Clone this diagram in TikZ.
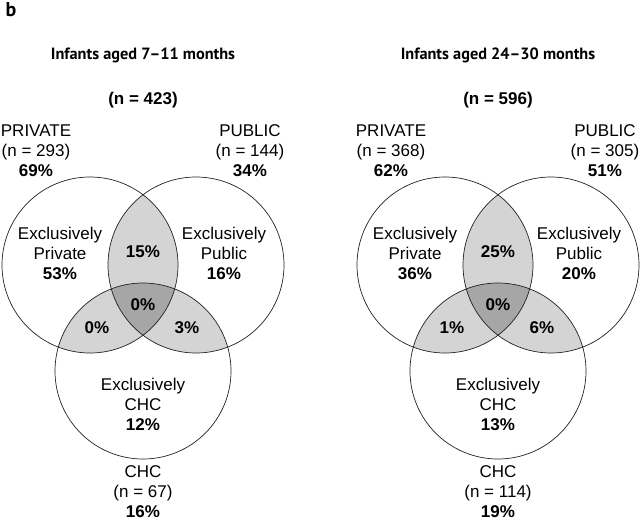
\documentclass[tikz,border=0pt]{standalone}
\usepackage{fontspec}
\setmainfont{Liberation Sans}
\newfontfamily\headfont[Ligatures=TeX]{PT Sans}
\usepackage{tikz}
\usetikzlibrary{positioning}
\definecolor{lightshade}{HTML}{D4D4D4}
\definecolor{darkshade}{HTML}{A6A6A6}
\definecolor{rim}{HTML}{222222}

\tikzset{
  venn/.style={circle, draw=rim, line width=0.7pt, minimum size=176pt, inner sep=0pt},
  lbl/.style={align=center, font=\fontsize{17}{20}\selectfont, inner sep=0pt},
  pct/.style={font=\fontsize{17}{20}\selectfont\bfseries, inner sep=0pt},
  head/.style={font=\headfont\fontsize{16.3}{19}\selectfont\bfseries, inner sep=0pt},
}

\begin{document}
\begin{tikzpicture}[x=1pt, y=-1pt]
  \useasboundingbox (0,0) rectangle (640,522);

  \node[font=\headfont\fontsize{20}{22}\selectfont\bfseries, inner sep=0pt] (tag) at (11,10) {b};

  % infants 7-11 months
  \coordinate (pA) at (90,265);
  \coordinate (uA) at (196,265);
  \coordinate (cA) at (143,371);
  \begin{scope}
    \clip (pA) circle (88pt);
    \fill[lightshade] (uA) circle (88pt);
    \fill[lightshade] (cA) circle (88pt);
  \end{scope}
  \begin{scope}
    \clip (uA) circle (88pt);
    \fill[lightshade] (cA) circle (88pt);
  \end{scope}
  \begin{scope}
    \clip (pA) circle (88pt);
    \clip (uA) circle (88pt);
    \fill[darkshade] (cA) circle (88pt);
  \end{scope}
  \node[venn] (privA) at (pA) {};
  \node[venn] (publA) at (uA) {};
  \node[venn] (chcA) at (cA) {};

  \node[head] (titleA) at (143,55) {Infants aged 7--11 months};
  \node[pct] (allA) at (143,100) {(n = 423)};
  \node[lbl] (privlblA) at (36,151) {PRIVATE\\(n = 293)\\\textbf{69\%}};
  \node[lbl] (publlblA) at (250,151) {PUBLIC\\(n = 144)\\\textbf{34\%}};
  \node[lbl] (chclblA) at (143,492) {CHC\\(n = 67)\\\textbf{16\%}};
  \node[lbl] (exprivA) at (60,253) {Exclusively\\Private\\\textbf{53\%}};
  \node[lbl] (expublA) at (224,253) {Exclusively\\Public\\\textbf{16\%}};
  \node[lbl] (exchcA) at (143,404) {Exclusively\\CHC\\\textbf{12\%}};
  \node[pct] (puA) at (143,252) {15\%};
  \node[pct] (allthreeA) at (143,305) {0\%};
  \node[pct] (pcA) at (97,328) {0\%};
  \node[pct] (ucA) at (187,328) {3\%};

  % infants 24-30 months
  \coordinate (pB) at (445,265);
  \coordinate (uB) at (551,265);
  \coordinate (cB) at (498,371);
  \begin{scope}
    \clip (pB) circle (88pt);
    \fill[lightshade] (uB) circle (88pt);
    \fill[lightshade] (cB) circle (88pt);
  \end{scope}
  \begin{scope}
    \clip (uB) circle (88pt);
    \fill[lightshade] (cB) circle (88pt);
  \end{scope}
  \begin{scope}
    \clip (pB) circle (88pt);
    \clip (uB) circle (88pt);
    \fill[darkshade] (cB) circle (88pt);
  \end{scope}
  \node[venn] (privB) at (pB) {};
  \node[venn] (publB) at (uB) {};
  \node[venn] (chcB) at (cB) {};

  \node[head] (titleB) at (498,55) {Infants aged 24--30 months};
  \node[pct] (allB) at (498,100) {(n = 596)};
  \node[lbl] (privlblB) at (391,151) {PRIVATE\\(n = 368)\\\textbf{62\%}};
  \node[lbl] (publlblB) at (605,151) {PUBLIC\\(n = 305)\\\textbf{51\%}};
  \node[lbl] (chclblB) at (498,492) {CHC\\(n = 114)\\\textbf{19\%}};
  \node[lbl] (exprivB) at (415,253) {Exclusively\\Private\\\textbf{36\%}};
  \node[lbl] (expublB) at (579,253) {Exclusively\\Public\\\textbf{20\%}};
  \node[lbl] (exchcB) at (498,404) {Exclusively\\CHC\\\textbf{13\%}};
  \node[pct] (puB) at (498,252) {25\%};
  \node[pct] (allthreeB) at (498,305) {0\%};
  \node[pct] (pcB) at (452,328) {1\%};
  \node[pct] (ucB) at (542,328) {6\%};
\end{tikzpicture}
\end{document}
